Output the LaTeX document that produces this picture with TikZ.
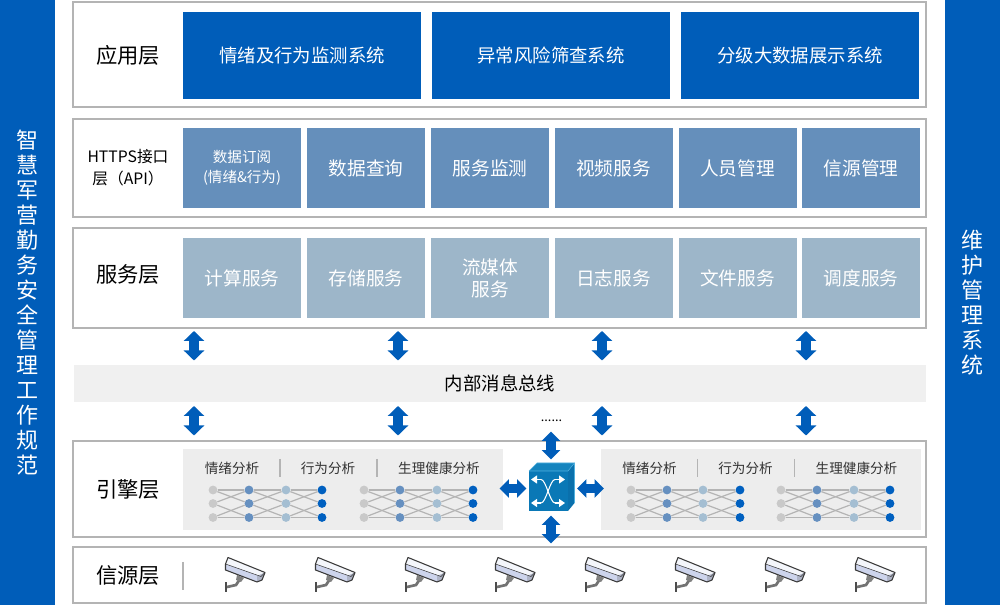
\documentclass[tikz,border=0pt]{standalone}
\usepackage{fontspec}
\setmainfont{Noto Sans CJK SC}
\usetikzlibrary{arrows.meta,positioning}
\definecolor{mainblue}{HTML}{005DB9}
\definecolor{apiblue}{HTML}{658FBB}
\definecolor{svcblue}{HTML}{9DB6C9}
\definecolor{framegray}{HTML}{B4B4B4}
\definecolor{panelgray}{HTML}{EDEDED}
\definecolor{busgray}{HTML}{F0F0F0}
\definecolor{txtgray}{HTML}{333333}
\definecolor{netA}{HTML}{C9C9C9}
\definecolor{netB}{HTML}{6690C0}
\definecolor{netC}{HTML}{A4BED2}
\definecolor{netD}{HTML}{0060C0}
\definecolor{cubeF}{HTML}{0A78B6}
\definecolor{cubeT}{HTML}{1584BE}
\definecolor{cubeS}{HTML}{0A70AC}
\definecolor{cubeE}{HTML}{4FB0DE}
\definecolor{camTop}{HTML}{F4F6FB}
\definecolor{camBody}{HTML}{CDD4EC}
\definecolor{camLens}{HTML}{AEB4C6}
\definecolor{camLine}{HTML}{3A3A3A}
\tikzset{
  x=0.75pt,y=-0.75pt,
  sidebar/.style={fill=mainblue,draw=none,inner sep=0pt,text=white,align=center,font=\fontsize{16.5}{18.75}\selectfont},
  layer/.style={draw=framegray,line width=1.25pt,fill=white,inner sep=0pt},
  layername/.style={inner sep=0pt,align=center,font=\fontsize{16}{18}\selectfont,text=black},
  appbox/.style={fill=mainblue,text=white,inner sep=0pt,minimum width=178.5pt,minimum height=65.25pt,font=\fontsize{13.8}{16}\selectfont},
  apibox/.style={fill=apiblue,text=white,inner sep=0pt,align=center,minimum width=88.5pt,minimum height=60pt,font=\fontsize{14}{17}\selectfont},
  svcbox/.style={fill=svcblue,text=white,inner sep=0pt,align=center,minimum width=88.5pt,minimum height=60pt,font=\fontsize{14}{16.5}\selectfont},
  panel/.style={fill=panelgray,inner sep=0pt,minimum width=240pt,minimum height=60.75pt},
  engtxt/.style={inner sep=0pt,text=txtgray,font=\fontsize{10.2}{12}\selectfont},
  sep/.style={draw=framegray,line width=0.9pt},
  fatlink/.style={draw=mainblue,line width=7.5pt,{Triangle[width=15pt,length=7.5pt]}-{Triangle[width=15pt,length=7.5pt]}},
  slimlink/.style={draw=mainblue,line width=7pt,{Triangle[width=13.5pt,length=7pt]}-{Triangle[width=13.5pt,length=7pt]}},
  netnode/.style={circle,inner sep=0pt,minimum size=6.6pt,fill=#1,draw=none},
  netedge/.style={draw=framegray,line width=0.9pt},
  swarrow/.style={white,line width=0.9pt,-{Triangle[width=6pt,length=4.5pt]}},
  swline/.style={white,line width=0.8pt},
  cam/.pic={
    % mount
    \fill[black!70] (0.5,25) rectangle (3,35);
    \draw[black!55,line width=2pt] (3,30) -- (12,28) -- (16,22);
    \fill[black!50] (13,18) -- (20,21) -- (17,25) -- (12,23) -- cycle;
    % body
    \fill[camTop] (4,0.5) -- (41,15.5) -- (37,19.5) -- (1.5,7) -- cycle;
    \fill[camBody] (1.5,7) -- (37,19.5) -- (33,25) -- (1.5,13) -- cycle;
    \fill[camLens] (33,19) -- (41,15.5) -- (38,23) -- (33,25) -- cycle;
    \draw[camLine,line width=0.8pt,line join=round] (4,0.5) -- (41,15.5) -- (38,23) -- (33,25) -- (1.5,13) -- (1.5,7) -- cycle;
    \draw[camLine,line width=0.4pt] (1.5,7) -- (37,19.5) -- (41,15.5);
  },
}
\newcommand{\neuralnet}[5]{% prefix, four column x
  \foreach \cx/\cc/\cn in {#2/netA/1,#3/netB/2,#4/netC/3,#5/netD/4}{
    \foreach \ry/\rn in {490/1,503.5/2,517.5/3}{
      \node[netnode=\cc] (#1c\cn r\rn) at (\cx,\ry) {};
    }
  }
  \foreach \a/\b in {1/2,2/3,3/4}{
    \foreach \s/\t in {1/1,3/3,1/2,2/1,2/3,3/2}{
      \draw[netedge] (#1c\a r\s) -- (#1c\b r\t);
    }
  }
}
\newcommand{\engtexts}[1]{% x offset
  \node[engtxt] at (#1+232,468) {情绪分析};
  \draw[sep] (#1+280,459) -- (#1+280,477);
  \node[engtxt] at (#1+328,468) {行为分析};
  \draw[sep] (#1+377,459) -- (#1+377,477);
  \node[engtxt] at (#1+439,468) {生理健康分析};
}
\begin{document}
\begin{tikzpicture}
\useasboundingbox (0,0) rectangle (1000,605);
% side bars
\node[sidebar,minimum width=41.25pt,minimum height=453.75pt] (leftbar) at (27.5,302.5) {智\\慧\\军\\营\\勤\\务\\安\\全\\管\\理\\工\\作\\规\\范};
\node[sidebar,minimum width=41.25pt,minimum height=453.75pt] (rightbar) at (972.5,302.5) {维\\护\\管\\理\\系\\统};
% layers
\node[layer,minimum width=639.75pt,minimum height=78.75pt] (appl) at (499.5,54.5) {};
\node[layer,minimum width=639.75pt,minimum height=73.5pt] (apil) at (499.5,168) {};
\node[layer,minimum width=639.75pt,minimum height=75pt] (svcl) at (499.5,278) {};
\node[layer,minimum width=639.75pt,minimum height=72pt] (engl) at (499.5,489) {};
\node[layer,minimum width=639.75pt,minimum height=42pt] (srcl) at (499.5,575) {};
\node[fill=busgray,inner sep=0pt,minimum width=639pt,minimum height=27.75pt,font=\fontsize{13.8}{16}\selectfont] (bus) at (500,383.5) {内部消息总线};
% layer names
\node[layername] (n1) at (128,55) {应用层};
\node[layername,font=\fontsize{11.8}{16.5}\selectfont] (n2) at (128,167.5) {HTTPS接口\\层（API）};
\node[layername] (n3) at (128,274) {服务层};
\node[layername] (n4) at (128,489) {引擎层};
\node[layername] (n5) at (128,575) {信源层};
\draw[sep] (183,562) -- (183,590);
% app boxes
\node[appbox] (a1) at (302,55.5) {情绪及行为监测系统};
\node[appbox] (a2) at (551,55.5) {异常风险筛查系统};
\node[appbox] (a3) at (800,55.5) {分级大数据展示系统};
% api boxes
\node[apibox,font=\fontsize{10.9}{15}\selectfont] (b1) at (242,168) {数据订阅\\(情绪\&行为)};
\node[apibox] (b2) at (366,168) {数据查询};
\node[apibox] (b3) at (490,168) {服务监测};
\node[apibox] (b4) at (613.5,168) {视频服务};
\node[apibox] (b5) at (737.5,168) {人员管理};
\node[apibox] (b6) at (861,168) {信源管理};
% service boxes
\node[svcbox] (c1) at (242,278) {计算服务};
\node[svcbox] (c2) at (366,278) {存储服务};
\node[svcbox] (c3) at (490,278) {流媒体\\服务};
\node[svcbox] (c4) at (613.5,278) {日志服务};
\node[svcbox] (c5) at (737.5,278) {文件服务};
\node[svcbox] (c6) at (861,278) {调度服务};
% fat arrows
\foreach \i/\xx in {1/194,2/398,3/602,4/806}{
  \coordinate (ua\i) at (\xx,331);
  \coordinate (ub\i) at (\xx,360.5);
  \coordinate (la\i) at (\xx,406);
  \coordinate (lb\i) at (\xx,435.5);
  \draw[fatlink] (ua\i) -- (ub\i);
  \draw[fatlink] (la\i) -- (lb\i);
}
% engine panels
\node[panel] (p1) at (343,489.5) {};
\node[panel] (p2) at (761,489.5) {};
\engtexts{0}
\engtexts{417.5}
\neuralnet{na}{213}{249}{286}{322}
\neuralnet{nb}{364}{400}{437}{473}
\neuralnet{nc}{631}{667}{703}{740}
\neuralnet{nd}{781}{817}{854}{890}
% switch cube
\fill[cubeF] (529,471) rectangle (568,511);
\fill[cubeT] (529,471) -- (537,463) -- (574.5,463) -- (568,471) -- cycle;
\fill[cubeS] (568,471) -- (574.5,463) -- (574.5,503) -- (568,511) -- cycle;
\draw[cubeE,line width=0.5pt] (529,471) -- (537,463) -- (574.5,463) -- (574.5,503);
\draw[cubeE,line width=0.4pt] (529,471) -- (568,471) -- (574.5,463);
\draw[swarrow] (541,479.5) -- (531,479.5);
\draw[swarrow] (555,479.5) -- (565,479.5);
\draw[swarrow] (541,503) -- (531,503);
\draw[swarrow] (555,503) -- (565,503);
\draw[swline] (541,479.5) .. controls (546,479.5) and (550,503) .. (555,503);
\draw[swline] (555,479.5) .. controls (550,479.5) and (546,503) .. (541,503);
% slim arrows
\coordinate (s1a) at (551,431.5);\coordinate (s1b) at (551,459.5);
\coordinate (s2a) at (551,515.5);\coordinate (s2b) at (551,543.5);
\coordinate (s3a) at (499.5,488.5);\coordinate (s3b) at (526.5,488.5);
\coordinate (s4a) at (577,488.5);\coordinate (s4b) at (604,488.5);
\draw[slimlink] (s1a) -- (s1b);
\draw[slimlink] (s2a) -- (s2b);
\draw[slimlink] (s3a) -- (s3b);
\draw[slimlink] (s4a) -- (s4b);
\node[inner sep=0pt,font=\fontsize{9.5}{10}\selectfont] (dots) at (551.5,421) {......};
% cameras
\foreach \cxx in {224,314,404,494,584,674,764,854}{
  \pic at (\cxx,557) {cam};
}
\end{tikzpicture}
\end{document}
